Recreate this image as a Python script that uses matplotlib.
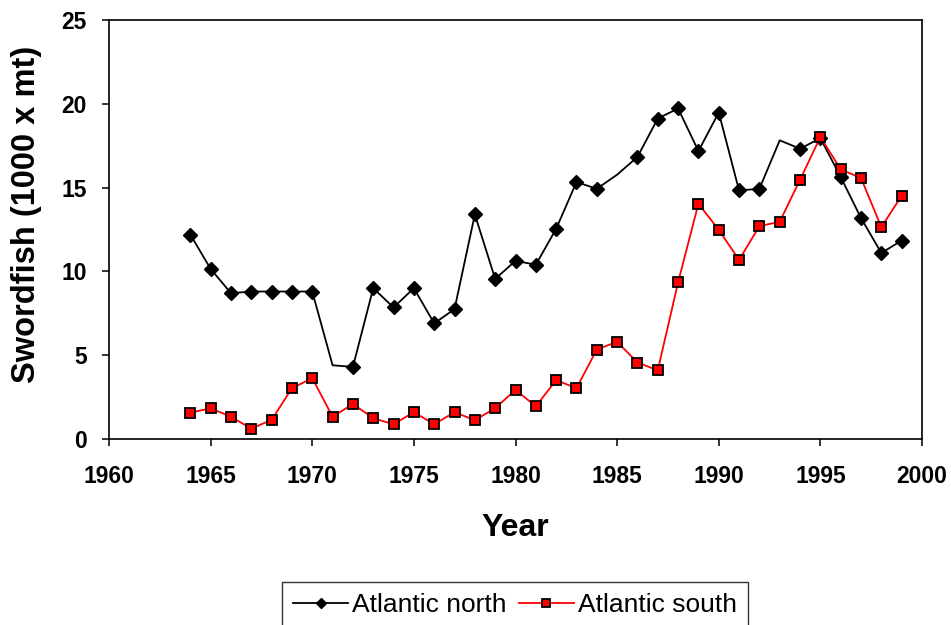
import numpy as np
import matplotlib.pyplot as plt

plt.rcParams['font.family'] = ['Liberation Sans', 'DejaVu Sans']

years = np.arange(1964, 2000)
north = [12.2, 10.15, 8.7, 8.8, 8.8, 8.8, 8.8, 4.4, 4.3, 9.0,
         7.85, 9.0, 6.9, 7.75, 13.4, 9.55, 10.63, 10.4, 12.54, 15.33,
         14.93, 15.77, 16.83, 19.12, 19.72, 17.18, 19.48, 14.83, 14.93, 17.82,
         17.32, 17.95, 15.63, 13.18, 11.1, 11.84]
south = [1.57, 1.83, 1.33, 0.62, 1.14, 3.03, 3.63, 1.33, 2.09, 1.24,
         0.88, 1.6, 0.88, 1.6, 1.12, 1.84, 2.93, 1.95, 3.51, 3.03,
         5.34, 5.8, 4.56, 4.1, 9.35, 14.04, 12.48, 10.69, 12.7, 12.96,
         15.47, 18.02, 16.09, 15.57, 12.64, 14.52]

# north series has no marker drawn in 1971, 1985 and 1993
north_marks = [i for i, y in enumerate(years) if y not in (1971, 1985, 1993)]

W, H = 951, 625
fig = plt.figure(figsize=(W / 100, H / 100), dpi=100)
ax = fig.add_axes([109 / W, 1 - 439 / H, (922 - 109) / W, (439 - 20) / H])

ax.plot(years, north, color='black', lw=1.3, marker='D', markersize=7,
        markevery=north_marks, label='Atlantic north')
ax.plot(years, south, color='red', lw=1.3, marker='s', markersize=7.8,
        markerfacecolor='red', markeredgecolor='black', markeredgewidth=1.3,
        label='Atlantic south')

ax.set_xlim(1960, 2000)
ax.set_ylim(0, 25)
ax.set_xticks(range(1960, 2001, 5))
ax.set_yticks(range(0, 26, 5))
ax.tick_params(direction='out', length=5, width=1.1, labelsize=16.5)
ax.tick_params(axis='x', pad=14)
ax.tick_params(axis='y', pad=11)
for lab in ax.get_xticklabels() + ax.get_yticklabels():
    lab.set_fontweight('bold')
for sp in ax.spines.values():
    sp.set_linewidth(1.2)

ax.set_xlabel('Year', fontsize=23, fontweight='bold', va='center')
ax.xaxis.set_label_coords((515 - 109) / (922 - 109), -(528 - 439) / (439 - 20))
ax.set_ylabel('Swordfish (1000 x mt)', fontsize=23.5, fontweight='bold', va='center')
ax.yaxis.set_label_coords((27 - 109) / (922 - 109), (439 - 214) / (439 - 20))

leg = fig.legend(loc='upper center', bbox_to_anchor=(515 / W, 1 - 582 / H),
                 ncol=2, fontsize=19, frameon=True, fancybox=False,
                 edgecolor='black', handlelength=2.1, handletextpad=0.15,
                 columnspacing=0.45, borderpad=0.42, borderaxespad=0,
                 markerscale=0.8)
leg.get_frame().set_linewidth(1.0)

fig.savefig('out.png', dpi=100)
